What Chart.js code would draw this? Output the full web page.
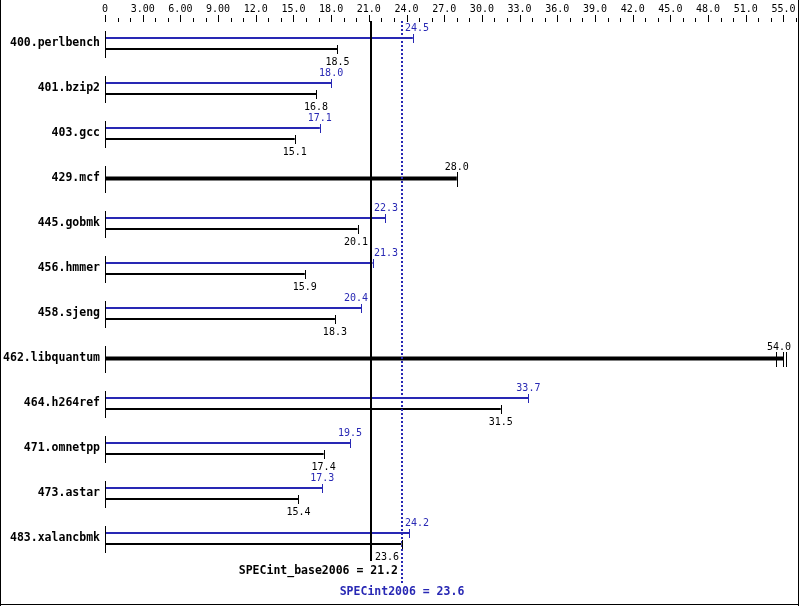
<!DOCTYPE html>
<html>
<head>
<meta charset="utf-8">
<script src="https://cdn.jsdelivr.net/npm/chart.js@4/dist/chart.umd.min.js"></script>
<style>
  html, body { margin: 0; padding: 0; background: #fff; }
  canvas { display: block; }
</style>
</head>
<body>
<canvas id="chart" width="799" height="606"></canvas>
<script>
// benchmark rows, top to bottom
const benchmarks = ['400.perlbench', '401.bzip2', '403.gcc', '429.mcf', '445.gobmk', '456.hmmer',
  '458.sjeng', '462.libquantum', '464.h264ref', '471.omnetpp', '473.astar', '483.xalancbmk'];
// peak (blue) and base (black) ratios; null where base == peak (one thick bar)
const peakValues = [24.5, 18.0, 17.1, null, 22.3, 21.3, 20.4, null, 33.7, 19.5, 17.3, 24.2];
const baseValues = [18.5, 16.8, 15.1, null, 20.1, 15.9, 18.3, null, 31.5, 17.4, 15.4, 23.6];
const sameValues = [null, null, null, 28.0, null, null, null, 54.0, null, null, null, null];
// extra run markers on libquantum
const libquantumRuns = [53.4, 54.2];

const tickValues = [0, 3, 6, 9, 12, 15, 18, 21, 24, 27, 30, 33, 36, 39, 42, 45, 48, 51, 54];
const tickLabels = ['0', '3.00', '6.00', '9.00', '12.0', '15.0', '18.0', '21.0', '24.0', '27.0',
  '30.0', '33.0', '36.0', '39.0', '42.0', '45.0', '48.0', '51.0', '55.0'];

const baseMean = 21.2;   // SPECint_base2006
const peakMean = 23.6;   // SPECint2006

const BLUE = '#2828b4';
const MONO = '"DejaVu Sans Mono", "Liberation Mono", monospace';

const specPlugin = {
  id: 'spec',
  beforeDraw(chart) {
    const ctx = chart.ctx;
    ctx.save();
    ctx.fillStyle = '#fff';
    ctx.fillRect(0, 0, chart.width, chart.height);
    ctx.restore();
  },
  afterDatasetsDraw(chart) {
    const ctx = chart.ctx;
    const x = chart.scales.x;
    const y = chart.scales.y;
    const area = chart.chartArea;
    const xBase = Math.round(x.getPixelForValue(baseMean));
    const xPeak = Math.round(x.getPixelForValue(peakMean));
    ctx.save();

    // top axis tick marks
    ctx.fillStyle = '#000';
    for (let v = 0; v <= 55; v++) {
      const px = Math.round(x.getPixelForValue(v));
      const len = v % 3 === 0 ? 7 : 4;
      ctx.fillRect(px, area.top + 1 - len, 1, len);
    }

    // row axis segments
    benchmarks.forEach((b, i) => {
      const cy = y.getPixelForValue(i);
      ctx.fillRect(Math.round(area.left), Math.round(cy - 13), 1, 27);
    });

    // mean lines
    ctx.fillStyle = '#000';
    ctx.fillRect(xBase - 1, area.top, 2, area.bottom - area.top);
    ctx.strokeStyle = BLUE;
    ctx.lineWidth = 2;
    ctx.setLineDash([2, 2]);
    ctx.beginPath();
    ctx.moveTo(xPeak, area.top);
    ctx.lineTo(xPeak, area.bottom + 22);
    ctx.stroke();
    ctx.setLineDash([]);

    // caps and value labels
    ctx.font = '10px ' + MONO;
    ctx.textBaseline = 'middle';
    const avoid = [xBase, xPeak];
    const label = (text, cx, cy, color) => {
      const w = ctx.measureText(text).width;
      let left = cx - w / 2;
      avoid.forEach(lx => {
        if (left < lx + 3 && left + w > lx - 3) left = cx >= lx ? lx + 3 : lx - 3 - w;
      });
      left = Math.min(left, area.right - 5 - w);
      ctx.fillStyle = color;
      ctx.textAlign = 'left';
      ctx.fillText(text, left, cy);
    };
    chart.data.datasets.forEach((ds, di) => {
      const meta = chart.getDatasetMeta(di);
      meta.data.forEach((el, i) => {
        const v = ds.data[i];
        if (v === null) return;
        const ex = Math.round(el.x);
        const half = ds.capHalf;
        ctx.fillStyle = ds.backgroundColor;
        ctx.fillRect(ex, Math.round(el.y - half), 1, half * 2 + 1);
        if (ds.key === 'same' && benchmarks[i] === '462.libquantum') {
          libquantumRuns.forEach(r => {
            ctx.fillRect(Math.round(x.getPixelForValue(r)), Math.round(el.y - half), 1, half * 2 + 1);
          });
        }
        label(v.toFixed(1), el.x, el.y + ds.labelOffset, ds.backgroundColor);
      });
    });

    // summary texts
    ctx.font = 'bold 11.5px ' + MONO;
    ctx.fillStyle = '#000';
    ctx.textAlign = 'right';
    ctx.fillText('SPECint_base2006 = ' + baseMean.toFixed(1), xPeak - 4, area.bottom + 10);
    ctx.fillStyle = BLUE;
    ctx.textAlign = 'center';
    ctx.fillText('SPECint2006 = ' + peakMean.toFixed(1), xPeak, area.bottom + 31);

    // frame
    ctx.fillStyle = '#000';
    ctx.fillRect(0, 0, 1, chart.height);
    ctx.fillRect(chart.width - 1, 0, 1, chart.height);
    ctx.fillRect(0, chart.height - 2, chart.width, 1);
    ctx.restore();
  }
};

new Chart(document.getElementById('chart'), {
  type: 'bar',
  data: {
    labels: benchmarks,
    datasets: [
      { key: 'peak', data: peakValues, backgroundColor: BLUE, maxBarThickness: 2, capHalf: 4, labelOffset: -10 },
      { key: 'base', data: baseValues, backgroundColor: '#000', maxBarThickness: 2, capHalf: 4, labelOffset: 13 },
      { key: 'same', data: sameValues, backgroundColor: '#000', maxBarThickness: 4, capHalf: 7, labelOffset: -11 }
    ]
  },
  options: {
    indexAxis: 'y',
    responsive: false,
    animation: false,
    devicePixelRatio: 1,
    layout: { padding: { top: 0, right: 3, bottom: 45, left: 0 } },
    datasets: { bar: { skipNull: true, categoryPercentage: 22 / 45, barPercentage: 1, borderWidth: 0 } },
    plugins: { legend: { display: false }, tooltip: { enabled: false } },
    scales: {
      x: {
        position: 'top',
        min: 0,
        max: 55,
        grid: { display: false, drawTicks: false },
        border: { display: false },
        afterBuildTicks: (scale) => { scale.ticks = tickValues.map(v => ({ value: v })); },
        afterFit: (scale) => { scale.height = 21; scale.paddingRight = 0; },
        ticks: {
          autoSkip: false,
          maxRotation: 0,
          padding: 6,
          color: '#000',
          font: { family: MONO, size: 10 },
          callback: (v, i) => tickLabels[i]
        }
      },
      y: {
        type: 'category',
        grid: { display: false, drawTicks: false },
        border: { display: false },
        afterFit: (scale) => { scale.width = 105; },
        ticks: {
          padding: 5,
          color: '#000',
          font: { family: MONO, size: 11.5, weight: 'bold' }
        }
      }
    }
  },
  plugins: [specPlugin]
});
</script>
</body>
</html>
